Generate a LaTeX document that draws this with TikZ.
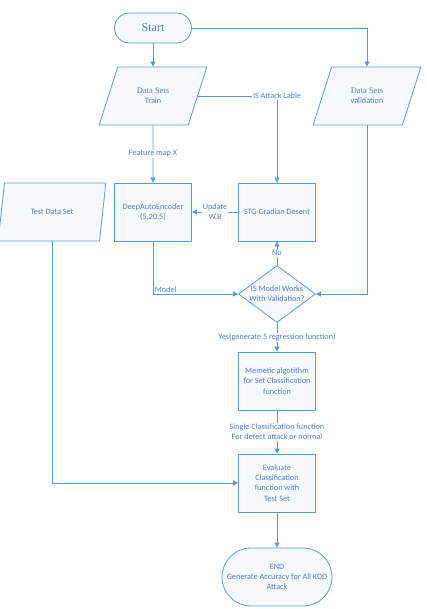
\documentclass[tikz,border=0pt]{standalone}
\usepackage{fontspec}
\setmainfont{Carlito}
\newfontfamily\titlefont{Liberation Serif}
\usetikzlibrary{shapes.geometric,arrows.meta}
\definecolor{flowline}{RGB}{91,155,213}
\definecolor{flowtext}{RGB}{79,125,195}
\definecolor{flowfill}{RGB}{246,249,253}

\begin{document}
\begin{tikzpicture}[x=1pt,y=-1pt,
    font={\fontsize{8.2}{10.3}\selectfont},
    every node/.style={text=flowtext,align=center},
    terminal/.style={draw=flowline,fill=flowfill,line width=.8pt,
        rounded corners=#1,inner sep=0pt},
    process/.style={draw=flowline,fill=flowfill,line width=.8pt,
        minimum width=77pt,minimum height=58pt,inner sep=0pt},
    dataset/.style={trapezium,trapezium stretches=true,
        trapezium left angle=62,trapezium right angle=118,
        draw=flowline,fill=flowfill,line width=.8pt,
        minimum width=108pt,minimum height=58pt,inner sep=0pt},
    decision/.style={diamond,draw=flowline,fill=flowfill,line width=.8pt,
        minimum width=77pt,minimum height=57pt,inner sep=0pt},
    flow/.style={draw=flowline,line width=.8pt,
        -{Triangle[width=5pt,length=5pt]}},
    tag/.style={fill=white,inner sep=1pt},
    ]
    \useasboundingbox (0,0) rectangle (427,609);

    % Start and input data
    \node[terminal=15pt,minimum width=77pt,minimum height=30pt] (start) at (153,28)
        {\titlefont\fontsize{12}{14}\selectfont Start};
    \node[dataset] (train) at (153,96)
        {\titlefont\fontsize{8.5}{10}\selectfont Data Sets\\Train};
    \node[dataset] (valid) at (367,96)
        {\titlefont\fontsize{8.5}{10}\selectfont Data Sets\\validation};
    \node[dataset] (testset) at (52,212) {Test Data Set};

    % Training loop
    \node[process] (encoder) at (153,212) {DeepAutoEncoder\\(5,20,5)};
    \node[process] (descent) at (277,212) {STG Gradian Desent};
    \node[decision] (check) at (277,294) {};
    \node at (check) {IS Model Works\\With Validation?};

    % Classification
    \node[process] (memetic) at (277,381)
        {Memetic algotithm\\for Set Classification\\function};
    \node[process] (evaluate) at (277,483)
        {Evaluate\\Classification\\function with\\Test Set};
    \node[terminal=28.9pt,minimum width=110pt,minimum height=58pt] (finish) at (277,577)
        {END\\Generate Accuracy for All KDD\\Attack};

    % Connectors
    \draw[flow] (start) -- (train);
    \draw[flow] (start) -| (valid);
    \draw[flow] (train) -- node[tag]{Feature map X} (encoder);
    \draw[flow] (train) -| node[tag]{IS Attack Lable} (descent);
    \draw[flow] (descent) -- node[tag]{Update\\W,B} (encoder);
    \draw[flow] (encoder) |- node[pos=.5,above right,inner sep=1.5pt]{Model} (check);
    \draw[flow] (valid) |- (check);
    \draw[flow] (check) -- node[tag]{No} (descent);
    \draw[flow] (check) -- node[tag]{Yes(generate 5 regression function)} (memetic);
    \draw[flow] (memetic) -- node[tag]{Single Classification function\\For detect attack or normal} (evaluate);
    \draw[flow] (testset) |- (evaluate);
    \draw[flow] (evaluate) -- (finish);
\end{tikzpicture}
\end{document}
